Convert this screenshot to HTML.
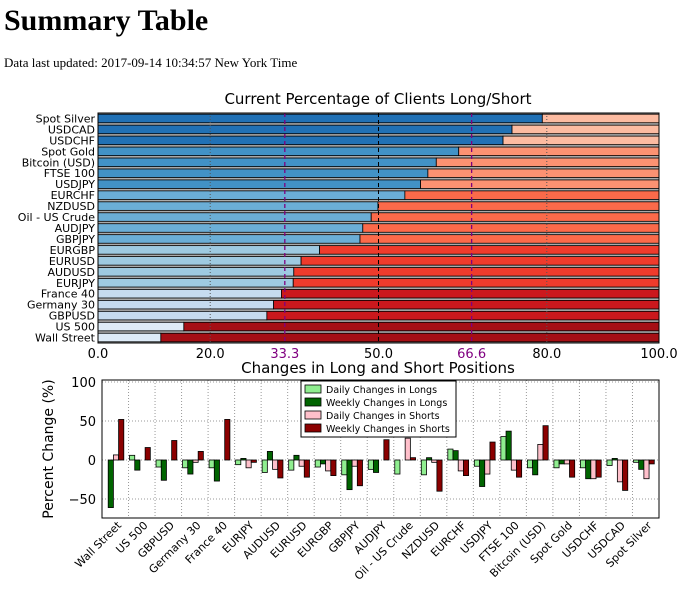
<!DOCTYPE html>
<html><head><meta charset="utf-8"><style>
body{margin:0;background:#fff;width:680px;height:596px;overflow:hidden;font-family:"Liberation Serif",serif}
h1{position:absolute;left:4px;top:4px;margin:0;font-size:30px;font-weight:bold}
.upd{position:absolute;left:4px;top:55px;font-size:13px}
svg{position:absolute;left:0;top:0}
svg text{font-family:"DejaVu Sans","Liberation Sans",sans-serif}
</style></head><body>
<h1>Summary Table</h1>
<div class="upd">Data last updated: 2017-09-14 10:34:57 New York Time</div>
<svg id="c" width="680" height="596"></svg>
<script>
const topCats=["Spot Silver","USDCAD","USDCHF","Spot Gold","Bitcoin (USD)","FTSE 100","USDJPY","EURCHF","NZDUSD","Oil - US Crude","AUDJPY","GBPJPY","EURGBP","EURUSD","AUDUSD","EURJPY","France 40","Germany 30","GBPUSD","US 500","Wall Street"];
const longPct=[79.2,73.8,72.2,64.3,60.3,58.8,57.5,54.7,49.9,48.7,47.2,46.7,39.5,36.2,34.9,34.8,32.7,31.3,30.1,15.3,11.2];
const topTicks=[0,20,33.3,50,66.6,80,100];
const chgCats=["Wall Street","US 500","GBPUSD","Germany 30","France 40","EURJPY","AUDUSD","EURUSD","EURGBP","GBPJPY","AUDJPY","Oil - US Crude","NZDUSD","EURCHF","USDJPY","FTSE 100","Bitcoin (USD)","Spot Gold","USDCHF","USDCAD","Spot Silver"];
const dailyLong=[0,6,-9,-10,-10,-6,-16,-13,-9,-19,-12,-18,-19,14,-8,30,-10,-10,-10,-7,-3];
const weeklyLong=[-61,-13,-26,-18,-27,2,11,6,-5,-38,-16,0,3,12,-34,37,-19,-5,-24,2,-12];
const dailyShort=[6.5,0,0,-3,0,-10,-12,-8,-14,-8,0,28,-3,-14,-18,-13,20,-5,-24,-28,-24];
const weeklyShort=[52,16,25,11,52,-3,-23,-22,-20,-33,26,3,-40,-20,23,-22,44,-22,-22,-39,-5];
const yTicks=[100,50,0,-50];
const S=document.getElementById('c'),NS='http://www.w3.org/2000/svg';
function el(t,a,txt){const e=document.createElementNS(NS,t);for(const k in a)e.setAttribute(k,a[k]);if(txt!==undefined)e.textContent=txt;S.appendChild(e);return e;}
// top chart
const L=98,R=659,T=113,B=343;
const tx=v=>L+(R-L)*v/100;
const rh=(B-T)/topCats.length;
const blues=['#deebf7','#c6dbef','#9ecae1','#6baed6','#4292c6','#2171b5'];
const reds=['#fcbba1','#fc9272','#fb6a4a','#ef3b2c','#cb181d','#a50f15'];
function pick(arr,f){return arr[Math.max(0,Math.min(arr.length-1,Math.floor(f*arr.length)))];}
el('rect',{x:L,y:T,width:R-L,height:B-T,fill:'#aaa'});
topCats.forEach((c,i)=>{
 const y=T+i*rh+1.2,h=rh-2.4,lv=longPct[i];
 let r=el('rect',{x:tx(0),y:y,width:tx(lv)-tx(0),height:h,fill:pick(blues,(lv-10)/70),stroke:'#000','stroke-width':0.8});
 
 r=el('rect',{x:tx(lv),y:y,width:tx(100)-tx(lv),height:h,fill:pick(reds,(lv-10)/70*-1+1),stroke:'#000','stroke-width':0.8});
 
 const t=el('text',{x:L-3,y:y+h/2+4,'text-anchor':'end','font-size':11},c);
 
});
[20,80].forEach(v=>el('line',{x1:tx(v),x2:tx(v),y1:T,y2:B,stroke:'#555','stroke-dasharray':'1,2'}));
el('line',{x1:tx(50),x2:tx(50),y1:T,y2:B,stroke:'#000','stroke-dasharray':'4,3'});
[33.3,66.6].forEach(v=>el('line',{x1:tx(v),x2:tx(v),y1:T,y2:B,stroke:'#800080','stroke-dasharray':'4,3','stroke-width':1.3}));
el('rect',{x:L,y:T,width:R-L,height:B-T,fill:'none',stroke:'#000'});
topTicks.forEach(v=>{const p=(v===33.3||v===66.6);
 const t=el('text',{x:tx(v),y:358,'text-anchor':'middle','font-size':13,fill:p?'#800080':'#000'},v.toFixed(1));
 });
el('text',{x:378,y:104,'text-anchor':'middle','font-size':15},'Current Percentage of Clients Long/Short');
// bottom chart
const L2=102,R2=659,T2=380,B2=518;
const yv=v=>460-v*0.78;
const gw=(R2-L2)/chgCats.length;
el('rect',{x:L2,y:T2,width:R2-L2,height:B2-T2,fill:'#fff'});
yTicks.forEach(v=>{el('line',{x1:L2,x2:R2,y1:yv(v),y2:yv(v),stroke:'#999','stroke-dasharray':'1,2'});
 const t=el('text',{x:L2-6,y:yv(v)+5,'text-anchor':'end','font-size':13},v<0?'\u2212'+(-v):String(v));
 });
const series=[[dailyLong,'#90ee90'],[weeklyLong,'#006400'],[dailyShort,'#ffc0cb'],[weeklyShort,'#8b0000']];
const bw=5.2;
chgCats.forEach((c,i)=>{
 const gx=L2+i*gw+1;
 el('line',{x1:L2+(i+1)*gw,x2:L2+(i+1)*gw,y1:T2,y2:B2,stroke:'#999','stroke-dasharray':'1,2'});
 series.forEach(([arr,col],k)=>{const v=arr[i];
  const r=el('rect',{x:gx+k*bw,y:Math.min(yv(0),yv(v)),width:bw,height:Math.abs(yv(v)-yv(0)),fill:col,stroke:'#000','stroke-width':0.8});
  });
 const ax=L2+i*gw+gw*0.75;
 const t=el('text',{x:ax,y:B2+8,'text-anchor':'end','font-size':11,transform:`rotate(-45 ${ax} ${B2+8})`},c);
 
});
el('rect',{x:L2,y:T2,width:R2-L2,height:B2-T2,fill:'none',stroke:'#000'});
el('text',{x:378,y:373,'text-anchor':'middle','font-size':15},'Changes in Long and Short Positions');
const yl=el('text',{x:53,y:449,'text-anchor':'middle','font-size':14,transform:'rotate(-90 53 449)'},'Percent Change (%)');

// legend
el('rect',{x:301,y:381,width:155,height:56,fill:'#fff',stroke:'#000'});
const ln=['Daily Changes in Longs','Weekly Changes in Longs','Daily Changes in Shorts','Weekly Changes in Shorts'];
ln.forEach((n,k)=>{const y=385+k*13;
 el('rect',{x:305,y:y,width:16,height:8,fill:series[k][1],stroke:'#000','stroke-width':0.8});
 const t=el('text',{x:326,y:y+8,'font-size':9.5},n);});
</script>
</body></html>
